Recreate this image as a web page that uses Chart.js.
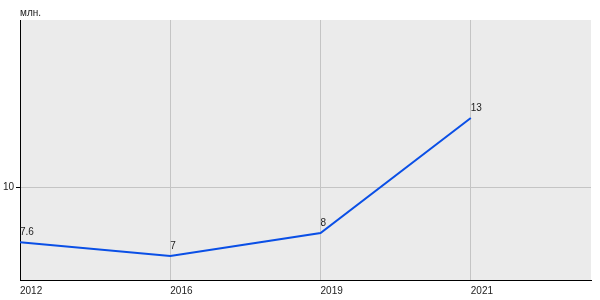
<!DOCTYPE html>
<html>
<head>
<meta charset="utf-8">
<script src="https://cdn.jsdelivr.net/npm/chart.js@4/dist/chart.umd.min.js"></script>
<style>
html,body{margin:0;padding:0;background:#fff;}
#wrap{width:600px;height:300px;position:relative;}
</style>
</head>
<body>
<div id="wrap"><canvas id="c" width="600" height="300"></canvas></div>
<script>
const categories = ['2012', '2016', '2019', '2021'];
const values = [7.6, 7, 8, 13];
const yTicks = [10];
const unitLabel = 'млн.';

const FONT = 'Liberation Sans, Arial, sans-serif';

const bgPlugin = {
  id: 'bg',
  beforeDraw(chart) {
    const {ctx, chartArea: a} = chart;
    ctx.save();
    ctx.fillStyle = '#ebebeb';
    ctx.fillRect(a.left, a.top, a.right - a.left, a.bottom - a.top);
    ctx.restore();
  },
  afterDatasetsDraw(chart) {
    const {ctx} = chart;
    const meta = chart.getDatasetMeta(0);
    ctx.save();
    ctx.font = '10px ' + FONT;
    ctx.fillStyle = '#222';
    ctx.textAlign = 'left';
    ctx.textBaseline = 'alphabetic';
    meta.data.forEach((pt, i) => {
      ctx.fillText(String(values[i]), pt.x, pt.y - 7);
    });
    ctx.font = '10px ' + FONT;
    ctx.fillText(unitLabel, chart.chartArea.left, 16);
    ctx.restore();
  }
};

new Chart(document.getElementById('c'), {
  type: 'line',
  data: {
    datasets: [{
      data: values.map((v, i) => ({x: i, y: v})),
      borderColor: '#0a4fe6',
      borderWidth: 2,
      pointRadius: 0,
      tension: 0,
      fill: false
    }]
  },
  options: {
    responsive: false,
    animation: false,
    layout: {padding: {left: 0, right: 9, top: 20, bottom: 0}},
    plugins: {legend: {display: false}, tooltip: {enabled: false}},
    scales: {
      x: {
        type: 'linear',
        min: 0,
        max: 3.8,
        afterBuildTicks(s) { s.ticks = categories.map((c, i) => ({value: i})); },
        afterFit(s) { s.height = 20; },
        border: {color: '#000', width: 1},
        grid: {color: '#c4c4c4', drawTicks: false, lineWidth: 1},
        ticks: {
          align: 'start',
          padding: 5,
          maxRotation: 0,
          autoSkip: false,
          color: '#222',
          font: {family: FONT, size: 10},
          callback: (v) => categories[v] ?? ''
        }
      },
      y: {
        min: 5.96,
        max: 17.26,
        afterBuildTicks(s) { s.ticks = yTicks.map(v => ({value: v})); },
        afterFit(s) { s.width = 20; },
        border: {color: '#000', width: 1},
        grid: {color: '#c4c4c4', tickColor: '#000', tickLength: 4, lineWidth: 1},
        ticks: {
          padding: 2,
          color: '#222',
          font: {family: FONT, size: 10},
          callback: (v) => String(v)
        }
      }
    }
  },
  plugins: [bgPlugin]
});
</script>
</body>
</html>
